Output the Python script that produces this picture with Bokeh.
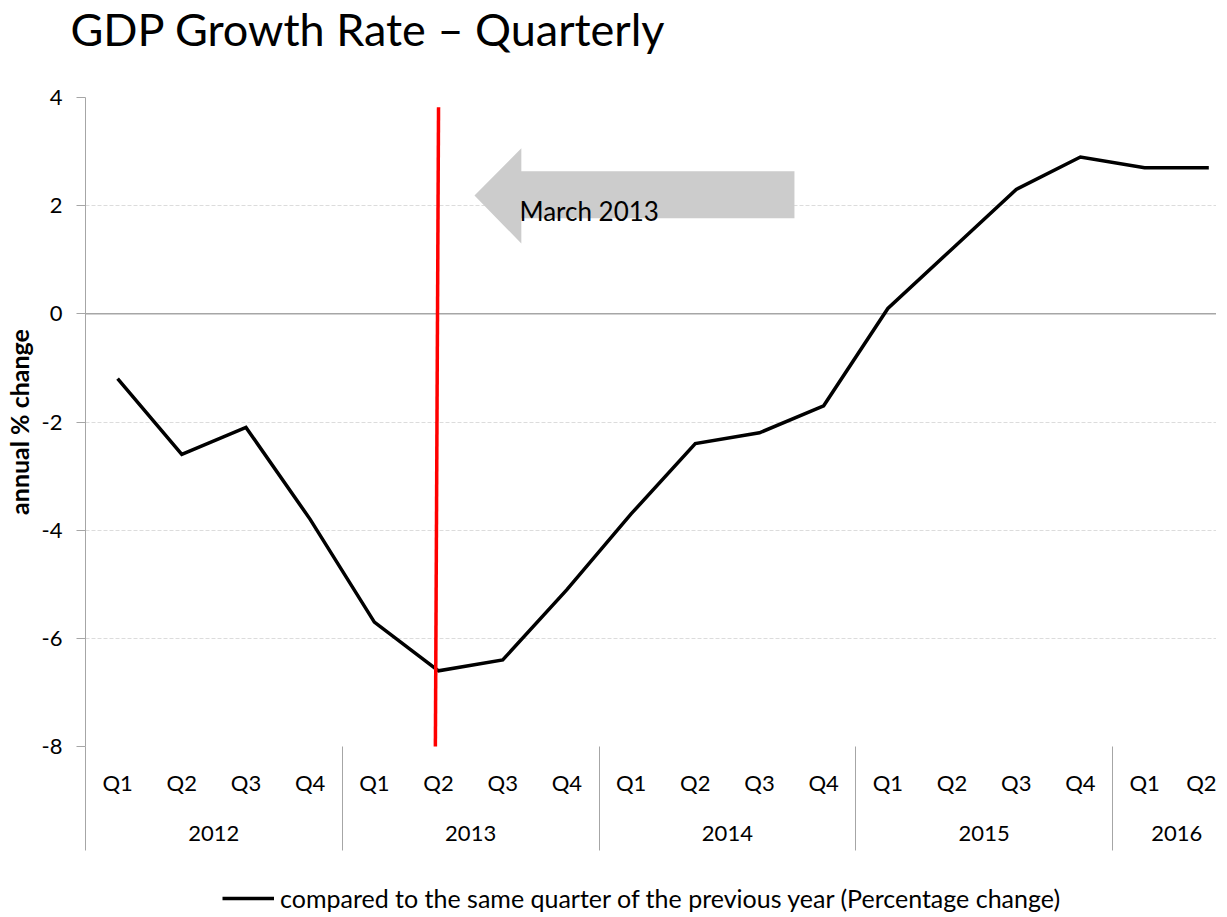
from bokeh.plotting import figure
from bokeh.models import FixedTicker, LinearAxis, Span, Legend, LegendItem, Range1d
from bokeh.layouts import column
from bokeh.core.properties import value
from bokeh.embed import file_html
from bokeh.resources import INLINE

# ---- data ----
quarters = ["Q1", "Q2", "Q3", "Q4"] * 4 + ["Q1", "Q2"]
years = ["2012", "2013", "2014", "2015", "2016"]
year_centers = [1.5, 5.5, 9.5, 13.5, 16.5]
year_bounds = [-0.5, 3.5, 7.5, 11.5, 15.5]
growth = [-1.2, -2.6, -2.1, -3.8, -5.7, -6.6, -6.4, -5.1, -3.7, -2.4, -2.2, -1.7,
          0.1, 1.2, 2.3, 2.9, 2.7, 2.7]
x_idx = list(range(len(growth)))
y_ticks = [-8, -6, -4, -2, 0, 2, 4]
y_tick_labels = ["-8", "-6", "-4", "-2", "0", "2", "4"]

# annotation: event marker (red line) and arrow with label
event_x = [5.0, 4.95]
event_y = [3.82, -8.16]
arrow_x = [10.545, 6.29, 6.29, 5.56, 6.29, 6.29, 10.545]
arrow_y = [2.635, 2.635, 3.06, 2.19, 1.30, 1.766, 1.766]
arrow_label = ["March 2013"]
arrow_label_x = [6.26]
arrow_label_y = [1.91]

TITLE = "GDP Growth Rate \u2013 Quarterly"
LEGEND_LABEL = "compared to the same quarter of the previous year (Percentage change)"

FONT = "Lato"
GRAY = "#a6a6a6"
TICK_SIZE = "22px"
LEFT = 84
FRAME_W = 1131


def bare_figure(height):
    f = figure(width=LEFT + FRAME_W, height=height, output_backend="svg",
               toolbar_location=None, x_range=Range1d(-0.5, 17.12),
               y_range=Range1d(100, 101), min_border=0,
               background_fill_color="white", border_fill_color="white")
    f.outline_line_color = None
    f.axis.visible = False
    f.grid.visible = False
    return f


# ---- title strip ----
tf = bare_figure(62)
tf.title.text = TITLE
tf.title.text_font = FONT
tf.title.text_font_size = "45px"
tf.title.text_font_style = "normal"
tf.title.text_color = "#000000"
tf.title.align = "left"
tf.title.vertical_align = "top"
tf.title.offset = -15
tf.title.standoff = 3

# ---- main chart ----
p = figure(frame_width=FRAME_W, frame_height=649, output_backend="svg", toolbar_location=None,
           x_range=tf.x_range, y_range=Range1d(-8, 4),
           min_border_left=LEFT, min_border_right=0, min_border_top=35, min_border_bottom=110,
           background_fill_color="white", border_fill_color="white")
p.outline_line_color = None

# grid
p.xgrid.visible = False
p.ygrid.ticker = FixedTicker(ticks=y_ticks)
p.ygrid.grid_line_color = "#dcdcdc"
p.ygrid.grid_line_dash = "4 2"
p.ygrid.grid_line_width = 1

# y axis
ya = p.yaxis[0]
ya.ticker = FixedTicker(ticks=y_ticks)
ya.major_label_overrides = {t: s for t, s in zip(y_ticks, y_tick_labels)}
ya.axis_line_color = GRAY
ya.major_tick_line_color = GRAY
ya.major_tick_out = 9
ya.major_tick_in = 0
ya.minor_tick_line_color = None
ya.major_label_text_font = FONT
ya.major_label_text_font_size = TICK_SIZE
ya.major_label_text_color = "#000000"
ya.major_label_standoff = 14
ya.axis_label = "annual % change"
ya.axis_label_text_font = FONT
ya.axis_label_text_font_style = "bold"
ya.axis_label_text_font_size = "25px"
ya.axis_label_text_color = "#000000"
ya.axis_label_standoff = 5

# quarter axis (minor ticks draw the year separators)
xa = p.xaxis[0]
xa.ticker = FixedTicker(ticks=x_idx, minor_ticks=year_bounds)
xa.major_label_overrides = {i: q for i, q in zip(x_idx, quarters)}
xa.axis_line_color = None
xa.major_tick_line_color = None
xa.major_tick_out = 0
xa.major_tick_in = 0
xa.minor_tick_line_color = GRAY
xa.minor_tick_out = 104
xa.minor_tick_in = 0
xa.major_label_text_font = FONT
xa.major_label_text_font_size = TICK_SIZE
xa.major_label_text_color = "#000000"
xa.major_label_standoff = -82

# year axis
yr = LinearAxis(ticker=FixedTicker(ticks=year_centers),
                major_label_overrides={c: y for c, y in zip(year_centers, years)})
yr.axis_line_color = None
yr.major_tick_line_color = None
yr.major_tick_out = 0
yr.major_tick_in = 0
yr.minor_tick_line_color = None
yr.major_label_text_font = FONT
yr.major_label_text_font_size = TICK_SIZE
yr.major_label_text_color = "#000000"
yr.major_label_standoff = 27
p.add_layout(yr, "below")

# zero line
p.add_layout(Span(location=0, dimension="width", line_color=GRAY, line_width=1.5,
                  level="underlay"))

# arrow annotation
p.patch(arrow_x, arrow_y, fill_color="#cccccc", line_color=None)
p.text(x=arrow_label_x, y=arrow_label_y, text=arrow_label,
       text_font=value(FONT), text_font_size="26px", text_color="#000000",
       text_align="left", text_baseline="alphabetic")

# series
line = p.line(x_idx, growth, line_color="#000000", line_width=3.5, line_join="miter")

# event marker
p.line(event_x, event_y, line_color="#ff0000", line_width=3.5)

# ---- legend strip (same series, drawn out of view so only the key shows) ----
lf = bare_figure(57)
key_line = lf.line(x_idx, growth, line_color="#000000", line_width=3.5)
legend = Legend(items=[LegendItem(label=LEGEND_LABEL, renderers=[key_line])],
                location=(137, 0), orientation="horizontal",
                border_line_color=None, background_fill_alpha=0,
                label_text_font=FONT, label_text_font_size="25px",
                label_text_color="#000000", glyph_width=52, glyph_height=20,
                label_standoff=6, padding=0, margin=0)
lf.add_layout(legend, "center")

layout = column(tf, p, lf, spacing=0)
open("out.html", "w").write(file_html(layout, INLINE))
